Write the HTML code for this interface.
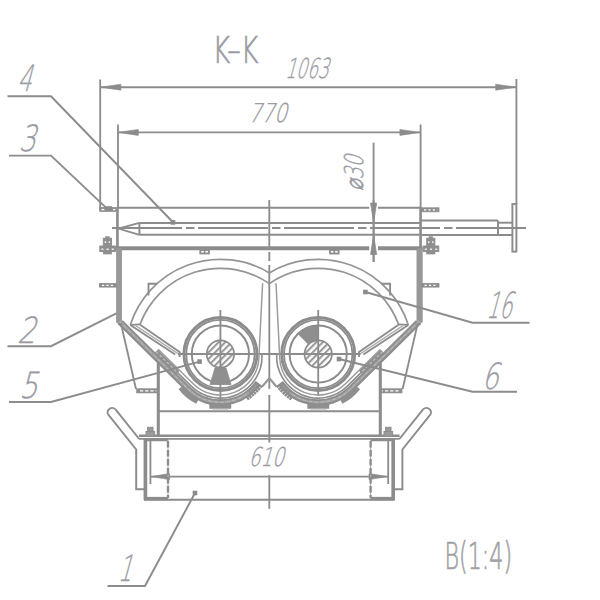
<!DOCTYPE html>
<html lang="en"><head><meta charset="utf-8"><title>K–K</title>
<style>
html,body{margin:0;padding:0;background:#fff;}
body{width:600px;height:600px;overflow:hidden;}
svg{display:block;}
text{font-family:"DejaVu Sans","Liberation Sans",sans-serif;}
</style></head><body>
<svg width="600" height="600" viewBox="0 0 600 600">
<defs>
<pattern id="hatch" patternUnits="userSpaceOnUse" width="4.6" height="4.6" patternTransform="rotate(-45)">
<rect width="4.6" height="4.6" fill="#fff"/><rect width="4.6" height="2.1" fill="#9a9a9a"/>
</pattern>
</defs>
<rect width="600" height="600" fill="#fff"/>
<line x1="100.20" y1="79.50" x2="100.20" y2="210.00" stroke="#8c8c8c" stroke-width="1.85" />
<line x1="516.40" y1="79.00" x2="516.40" y2="204.00" stroke="#8c8c8c" stroke-width="1.85" />
<line x1="100.20" y1="87.20" x2="516.40" y2="87.20" stroke="#8c8c8c" stroke-width="1.85" />
<path d="M100.40 87.20 L120.90 84.20 L120.90 90.20 Z" fill="#8c8c8c" stroke="#8c8c8c" stroke-width="0.6" />
<path d="M516.20 87.20 L495.70 84.20 L495.70 90.20 Z" fill="#8c8c8c" stroke="#8c8c8c" stroke-width="0.6" />
<line x1="118.00" y1="124.50" x2="118.00" y2="208.00" stroke="#8c8c8c" stroke-width="1.85" />
<line x1="420.60" y1="124.50" x2="420.60" y2="208.00" stroke="#8c8c8c" stroke-width="1.85" />
<line x1="117.60" y1="132.40" x2="420.60" y2="132.40" stroke="#8c8c8c" stroke-width="1.85" />
<path d="M117.80 132.40 L138.30 129.40 L138.30 135.40 Z" fill="#8c8c8c" stroke="#8c8c8c" stroke-width="0.6" />
<path d="M420.40 132.40 L399.90 129.40 L399.90 135.40 Z" fill="#8c8c8c" stroke="#8c8c8c" stroke-width="0.6" />
<line x1="373.60" y1="142.60" x2="373.60" y2="262.00" stroke="#8c8c8c" stroke-width="1.85" />
<line x1="117.60" y1="207.70" x2="420.60" y2="207.70" stroke="#8c8c8c" stroke-width="2.05" />
<line x1="116.00" y1="248.30" x2="422.50" y2="248.30" stroke="#8c8c8c" stroke-width="4.05" />
<rect x="116.20" y="207.20" width="2.40" height="41.00" fill="#8c8c8c" stroke="#8c8c8c" stroke-width="0.4"/>
<rect x="419.40" y="207.20" width="2.40" height="41.00" fill="#8c8c8c" stroke="#8c8c8c" stroke-width="0.4"/>
<rect x="99.80" y="207.60" width="16.00" height="3.80" fill="#8f8f8f" stroke="#8c8c8c" stroke-width="0.8"/>
<line x1="101.50" y1="209.60" x2="104.50" y2="209.60" stroke="#fff" stroke-width="1.35" />
<line x1="113.00" y1="209.60" x2="115.20" y2="209.60" stroke="#fff" stroke-width="1.35" />
<rect x="421.50" y="207.80" width="17.50" height="4.00" fill="#8f8f8f" stroke="#8c8c8c" stroke-width="0.8"/>
<line x1="424.00" y1="209.90" x2="437.50" y2="209.90" stroke="#fff" stroke-width="1.35" stroke-dasharray="2.2 2.2"/>
<rect x="369.20" y="205.00" width="8.80" height="6.00" fill="#fff" stroke="none" stroke-width="0"/>
<rect x="369.20" y="245.00" width="8.80" height="7.00" fill="#fff" stroke="none" stroke-width="0"/>
<line x1="373.60" y1="200.00" x2="373.60" y2="262.00" stroke="#8c8c8c" stroke-width="1.85" />
<path d="M373.60 222.60 L370.60 203.10 L376.60 203.10 Z" fill="#8c8c8c" stroke="#8c8c8c" stroke-width="0.8" />
<path d="M373.60 235.00 L370.60 254.50 L376.60 254.50 Z" fill="#8c8c8c" stroke="#8c8c8c" stroke-width="0.8" />
<line x1="139.40" y1="222.90" x2="420.00" y2="222.90" stroke="#8c8c8c" stroke-width="1.9500000000000002" />
<line x1="139.40" y1="234.80" x2="420.00" y2="234.80" stroke="#8c8c8c" stroke-width="1.9500000000000002" />
<line x1="139.40" y1="222.90" x2="139.40" y2="234.80" stroke="#8c8c8c" stroke-width="1.9500000000000002" />
<path d="M139.40 222.90 L118.50 228.60 L139.40 234.80" fill="none" stroke="#8c8c8c" stroke-width="1.85" />
<line x1="421.00" y1="220.50" x2="498.00" y2="220.50" stroke="#8c8c8c" stroke-width="1.9500000000000002" />
<line x1="421.00" y1="235.00" x2="512.40" y2="235.00" stroke="#8c8c8c" stroke-width="1.9500000000000002" />
<line x1="498.00" y1="220.50" x2="498.00" y2="235.00" stroke="#8c8c8c" stroke-width="1.9500000000000002" />
<line x1="498.00" y1="222.70" x2="512.40" y2="222.70" stroke="#8c8c8c" stroke-width="1.9500000000000002" />
<rect x="512.40" y="204.00" width="4.00" height="47.60" fill="none" stroke="#8c8c8c" stroke-width="1.9500000000000002"/>
<line x1="112.00" y1="228.00" x2="526.00" y2="228.00" stroke="#8c8c8c" stroke-width="1.85" stroke-dasharray="70 4 8.5 3.5"/>
<rect x="116.30" y="248.00" width="5.40" height="74.40" fill="#989898" stroke="#8c8c8c" stroke-width="0.5"/>
<rect x="416.90" y="248.00" width="5.40" height="74.40" fill="#989898" stroke="#8c8c8c" stroke-width="0.5"/>
<rect x="99.40" y="283.40" width="17.00" height="3.70" fill="#8f8f8f" stroke="#8c8c8c" stroke-width="0.8"/>
<line x1="102.00" y1="285.30" x2="115.00" y2="285.30" stroke="#fff" stroke-width="1.35" stroke-dasharray="2.2 2.2"/>
<rect x="422.00" y="283.40" width="17.00" height="3.70" fill="#8f8f8f" stroke="#8c8c8c" stroke-width="0.8"/>
<line x1="424.50" y1="285.30" x2="437.50" y2="285.30" stroke="#fff" stroke-width="1.35" stroke-dasharray="2.2 2.2"/>
<rect x="103.30" y="238.20" width="8.20" height="7.60" fill="#8f8f8f" stroke="#8c8c8c" stroke-width="0.9"/>
<rect x="105.60" y="236.60" width="3.60" height="1.60" fill="#8f8f8f" stroke="#8c8c8c" stroke-width="0.5"/>
<rect x="99.80" y="246.00" width="15.60" height="5.60" fill="#8f8f8f" stroke="#8c8c8c" stroke-width="0.9"/>
<rect x="103.30" y="251.60" width="8.20" height="2.40" fill="#8f8f8f" stroke="#8c8c8c" stroke-width="0.7"/>
<rect x="104.70" y="241.30" width="1.40" height="1.60" fill="#fff" stroke="none" stroke-width="0"/>
<rect x="108.70" y="241.30" width="1.40" height="1.60" fill="#fff" stroke="none" stroke-width="0"/>
<rect x="101.30" y="248.60" width="2.20" height="1.20" fill="#fff" stroke="none" stroke-width="0"/>
<rect x="106.50" y="248.60" width="2.20" height="1.20" fill="#fff" stroke="none" stroke-width="0"/>
<rect x="111.70" y="248.60" width="2.20" height="1.20" fill="#fff" stroke="none" stroke-width="0"/>
<rect x="426.70" y="238.20" width="8.20" height="7.60" fill="#8f8f8f" stroke="#8c8c8c" stroke-width="0.9"/>
<rect x="429.00" y="236.60" width="3.60" height="1.60" fill="#8f8f8f" stroke="#8c8c8c" stroke-width="0.5"/>
<rect x="423.20" y="246.00" width="15.60" height="5.60" fill="#8f8f8f" stroke="#8c8c8c" stroke-width="0.9"/>
<rect x="426.70" y="251.60" width="8.20" height="2.40" fill="#8f8f8f" stroke="#8c8c8c" stroke-width="0.7"/>
<rect x="428.10" y="241.30" width="1.40" height="1.60" fill="#fff" stroke="none" stroke-width="0"/>
<rect x="432.10" y="241.30" width="1.40" height="1.60" fill="#fff" stroke="none" stroke-width="0"/>
<rect x="424.70" y="248.60" width="2.20" height="1.20" fill="#fff" stroke="none" stroke-width="0"/>
<rect x="429.90" y="248.60" width="2.20" height="1.20" fill="#fff" stroke="none" stroke-width="0"/>
<rect x="435.10" y="248.60" width="2.20" height="1.20" fill="#fff" stroke="none" stroke-width="0"/>
<rect x="200.30" y="250.00" width="8.60" height="3.50" fill="none" stroke="#8c8c8c" stroke-width="1.85"/>
<rect x="330.00" y="250.00" width="8.60" height="3.50" fill="none" stroke="#8c8c8c" stroke-width="1.85"/>
<line x1="204.60" y1="250.00" x2="204.60" y2="253.50" stroke="#8c8c8c" stroke-width="1.65" />
<line x1="334.30" y1="250.00" x2="334.30" y2="253.50" stroke="#8c8c8c" stroke-width="1.65" />
<line x1="269.30" y1="200.00" x2="269.30" y2="246.50" stroke="#8c8c8c" stroke-width="1.85" />
<line x1="269.30" y1="252.00" x2="269.30" y2="261.00" stroke="#8c8c8c" stroke-width="1.85" />
<line x1="269.30" y1="265.00" x2="269.30" y2="388.80" stroke="#8c8c8c" stroke-width="1.85" />
<line x1="269.30" y1="395.00" x2="269.30" y2="442.50" stroke="#8c8c8c" stroke-width="1.85" />
<line x1="269.30" y1="475.00" x2="269.30" y2="508.80" stroke="#8c8c8c" stroke-width="1.85" />
<path d="M130.35 324.70 A94.70 94.70 0 0 1 269.30 272.90" fill="none" stroke="#949494" stroke-width="1.75" />
<path d="M139.94 324.50 A85.70 85.70 0 0 1 269.30 283.62" fill="none" stroke="#949494" stroke-width="1.75" />
<line x1="130.30" y1="324.80" x2="139.70" y2="324.40" stroke="#8c8c8c" stroke-width="1.85" />
<line x1="130.30" y1="325.00" x2="175.20" y2="354.60" stroke="#8c8c8c" stroke-width="1.85" />
<line x1="139.70" y1="324.40" x2="180.30" y2="352.60" stroke="#8c8c8c" stroke-width="1.85" />
<line x1="134.50" y1="324.80" x2="178.00" y2="353.60" stroke="#b0b0b0" stroke-width="1.45" />
<line x1="179.60" y1="352.30" x2="179.60" y2="357.00" stroke="#8c8c8c" stroke-width="1.85" />
<path d="M148.50 295.50 L148.50 283.70 L157.30 283.70" fill="none" stroke="#8c8c8c" stroke-width="1.85" />
<circle cx="220.40" cy="354.00" r="36.50" fill="none" stroke="#8c8c8c" stroke-width="2.85"/>
<circle cx="220.40" cy="354.00" r="34.20" fill="none" stroke="#8c8c8c" stroke-width="1.75"/>
<circle cx="220.40" cy="354.00" r="28.60" fill="none" stroke="#8c8c8c" stroke-width="1.9500000000000002"/>
<circle cx="220.40" cy="354.0" r="13.7" fill="url(#hatch)" stroke="#8c8c8c" stroke-width="1.7"/>
<line x1="220.40" y1="310.00" x2="220.40" y2="402.00" stroke="#8c8c8c" stroke-width="1.85" />
<path d="M269.30 272.90 A94.70 94.70 0 0 1 408.25 324.70" fill="none" stroke="#949494" stroke-width="1.75" />
<path d="M269.30 283.62 A85.70 85.70 0 0 1 398.66 324.50" fill="none" stroke="#949494" stroke-width="1.75" />
<line x1="408.30" y1="324.80" x2="398.90" y2="324.40" stroke="#8c8c8c" stroke-width="1.85" />
<line x1="408.30" y1="325.00" x2="363.40" y2="354.60" stroke="#8c8c8c" stroke-width="1.85" />
<line x1="398.90" y1="324.40" x2="358.30" y2="352.60" stroke="#8c8c8c" stroke-width="1.85" />
<line x1="404.10" y1="324.80" x2="360.60" y2="353.60" stroke="#b0b0b0" stroke-width="1.45" />
<line x1="359.00" y1="352.30" x2="359.00" y2="357.00" stroke="#8c8c8c" stroke-width="1.85" />
<path d="M390.10 295.50 L390.10 283.70 L381.30 283.70" fill="none" stroke="#8c8c8c" stroke-width="1.85" />
<circle cx="318.20" cy="354.00" r="36.50" fill="none" stroke="#8c8c8c" stroke-width="2.85"/>
<circle cx="318.20" cy="354.00" r="34.20" fill="none" stroke="#8c8c8c" stroke-width="1.75"/>
<circle cx="318.20" cy="354.00" r="28.60" fill="none" stroke="#8c8c8c" stroke-width="1.9500000000000002"/>
<circle cx="318.20" cy="354.0" r="13.7" fill="url(#hatch)" stroke="#8c8c8c" stroke-width="1.7"/>
<line x1="318.20" y1="310.00" x2="318.20" y2="396.00" stroke="#8c8c8c" stroke-width="1.85" />
<line x1="178.00" y1="354.00" x2="360.60" y2="354.00" stroke="#8c8c8c" stroke-width="1.85" />
<path d="M215.00 368.00 L226.00 368.00 L231.00 384.50 L210.00 384.50 Z" fill="#8f8f8f" stroke="#8c8c8c" stroke-width="0.8" />
<path d="M318.20 340.00 L318.20 325.40 L318.20 325.40 L315.71 325.51 L313.23 325.83 L310.80 326.37 L308.42 327.12 L306.11 328.08 L303.90 329.23 L301.80 330.57 L299.82 332.09 L297.98 333.78 L308.30 344.10 L309.20 343.28 L310.17 342.53 L311.20 341.88 L312.28 341.31 L313.41 340.84 L314.58 340.48 L315.77 340.21 L316.98 340.05 L318.20 340.00 Z" fill="#8f8f8f" stroke="#8c8c8c" stroke-width="0.8" />
<path d="M119.54 321.43 L188.26 389.13 A45.80 45.80 0 0 0 257.45 383.42" fill="none" stroke="#a2a2a2" stroke-width="4.6" stroke-linejoin="round" />
<path d="M119.54 321.43 L188.26 389.13 A45.80 45.80 0 0 0 257.45 383.42" fill="none" stroke="#c0c0c0" stroke-width="1.0" stroke-linejoin="round" stroke-dasharray="3.5 2.5"/>
<path d="M118.00 323.00 L186.71 390.69 A48.00 48.00 0 0 0 259.23 384.71" fill="none" stroke="#8c8c8c" stroke-width="2.0" stroke-linejoin="round" />
<path d="M122.16 320.92 L189.80 387.56 A43.60 43.60 0 0 0 255.67 382.13" fill="none" stroke="#8c8c8c" stroke-width="1.7" stroke-linejoin="round" />
<path d="M158.15 349.22 L193.38 383.93 A38.50 38.50 0 0 0 258.85 358.42 L262.60 283.30" fill="none" stroke="#9c9c9c" stroke-width="1.5" stroke-linejoin="round" />
<path d="M155.97 351.43 L191.21 386.13 A41.60 41.60 0 0 0 261.94 354.32" fill="none" stroke="#8c8c8c" stroke-width="1.6" stroke-linejoin="round" />
<path d="M246.84 398.82 A49.9 49.9 0 0 0 260.77 385.83" fill="none" stroke="#8e8e8e" stroke-width="3.6" stroke-dasharray="2.4 0.5"/>
<path d="M248.60 392.59 A45.8 45.8 0 0 0 257.45 383.42" fill="none" stroke="#909090" stroke-width="4.4" stroke-dasharray="2.4 0.6"/>
<line x1="255.11" y1="381.72" x2="261.98" y2="386.71" stroke="#8c8c8c" stroke-width="1.75" />
<line x1="261.98" y1="386.71" x2="269.30" y2="378.20" stroke="#979797" stroke-width="2.15" />
<line x1="156.12" y1="351.57" x2="177.70" y2="372.83" stroke="#8f8f8f" stroke-width="4.85" />
<line x1="156.12" y1="351.57" x2="177.70" y2="372.83" stroke="#c4c4c4" stroke-width="1.15" stroke-dasharray="3 2"/>
<path d="M197.43 401.58 A50.6 50.6 0 0 1 180.53 387.65" fill="none" stroke="#8f8f8f" stroke-width="5.0" />
<rect x="209.60" y="403.80" width="21.40" height="4.80" fill="#8f8f8f" stroke="#8c8c8c" stroke-width="0.4"/>
<rect x="212.10" y="408.60" width="16.40" height="1.00" fill="#b5b5b5" stroke="#8c8c8c" stroke-width="0"/>
<path d="M419.06 321.43 L350.34 389.13 A45.80 45.80 0 0 1 281.15 383.42" fill="none" stroke="#a2a2a2" stroke-width="4.6" stroke-linejoin="round" />
<path d="M419.06 321.43 L350.34 389.13 A45.80 45.80 0 0 1 281.15 383.42" fill="none" stroke="#c0c0c0" stroke-width="1.0" stroke-linejoin="round" stroke-dasharray="3.5 2.5"/>
<path d="M420.60 323.00 L351.89 390.69 A48.00 48.00 0 0 1 279.37 384.71" fill="none" stroke="#8c8c8c" stroke-width="2.0" stroke-linejoin="round" />
<path d="M416.44 320.92 L348.80 387.56 A43.60 43.60 0 0 1 282.93 382.13" fill="none" stroke="#8c8c8c" stroke-width="1.7" stroke-linejoin="round" />
<path d="M380.45 349.22 L345.22 383.93 A38.50 38.50 0 0 1 279.75 358.42 L276.00 283.30" fill="none" stroke="#9c9c9c" stroke-width="1.5" stroke-linejoin="round" />
<path d="M382.63 351.43 L347.39 386.13 A41.60 41.60 0 0 1 276.66 354.32" fill="none" stroke="#8c8c8c" stroke-width="1.6" stroke-linejoin="round" />
<path d="M291.76 398.82 A49.9 49.9 0 0 1 277.83 385.83" fill="none" stroke="#8e8e8e" stroke-width="3.6" stroke-dasharray="2.4 0.5"/>
<path d="M290.00 392.59 A45.8 45.8 0 0 1 281.15 383.42" fill="none" stroke="#909090" stroke-width="4.4" stroke-dasharray="2.4 0.6"/>
<line x1="283.49" y1="381.72" x2="276.62" y2="386.71" stroke="#8c8c8c" stroke-width="1.75" />
<line x1="276.62" y1="386.71" x2="269.30" y2="378.20" stroke="#979797" stroke-width="2.15" />
<line x1="382.48" y1="351.57" x2="360.90" y2="372.83" stroke="#8f8f8f" stroke-width="4.85" />
<line x1="382.48" y1="351.57" x2="360.90" y2="372.83" stroke="#c4c4c4" stroke-width="1.15" stroke-dasharray="3 2"/>
<path d="M341.17 401.58 A50.6 50.6 0 0 0 358.07 387.65" fill="none" stroke="#8f8f8f" stroke-width="5.0" />
<rect x="307.60" y="403.80" width="21.40" height="4.80" fill="#8f8f8f" stroke="#8c8c8c" stroke-width="0.4"/>
<rect x="310.10" y="408.60" width="16.40" height="1.00" fill="#b5b5b5" stroke="#8c8c8c" stroke-width="0"/>
<line x1="120.80" y1="323.00" x2="136.00" y2="389.00" stroke="#8c8c8c" stroke-width="1.85" />
<rect x="136.50" y="388.60" width="21.80" height="4.40" fill="#8f8f8f" stroke="#8c8c8c" stroke-width="0.5"/>
<line x1="140.00" y1="390.90" x2="156.50" y2="390.90" stroke="#fff" stroke-width="1.35" stroke-dasharray="3.2 2"/>
<line x1="158.30" y1="362.50" x2="158.30" y2="436.50" stroke="#8c8c8c" stroke-width="3.0500000000000003" />
<line x1="417.80" y1="323.00" x2="402.60" y2="389.00" stroke="#8c8c8c" stroke-width="1.85" />
<rect x="380.30" y="388.60" width="21.80" height="4.40" fill="#8f8f8f" stroke="#8c8c8c" stroke-width="0.5"/>
<line x1="398.60" y1="390.90" x2="382.10" y2="390.90" stroke="#fff" stroke-width="1.35" stroke-dasharray="3.2 2"/>
<line x1="380.30" y1="362.50" x2="380.30" y2="436.50" stroke="#8c8c8c" stroke-width="3.0500000000000003" />
<line x1="158.30" y1="411.20" x2="380.30" y2="411.20" stroke="#8c8c8c" stroke-width="1.85" />
<line x1="139.00" y1="435.70" x2="399.60" y2="435.70" stroke="#8c8c8c" stroke-width="2.35" />
<line x1="139.00" y1="438.90" x2="399.60" y2="438.90" stroke="#8c8c8c" stroke-width="1.85" />
<line x1="144.00" y1="499.80" x2="394.60" y2="499.80" stroke="#8c8c8c" stroke-width="2.05" />
<line x1="150.40" y1="476.60" x2="388.20" y2="476.60" stroke="#8c8c8c" stroke-width="1.85" />
<path d="M150.60 476.60 L169.60 473.60 L169.60 479.60 Z" fill="#8c8c8c" stroke="#8c8c8c" stroke-width="0.6" />
<path d="M388.00 476.60 L369.00 473.60 L369.00 479.60 Z" fill="#8c8c8c" stroke="#8c8c8c" stroke-width="0.6" />
<line x1="145.40" y1="438.00" x2="145.40" y2="500.00" stroke="#8c8c8c" stroke-width="3.65" />
<line x1="144.00" y1="439.60" x2="168.00" y2="439.60" stroke="#8c8c8c" stroke-width="3.25" />
<line x1="144.00" y1="498.60" x2="168.00" y2="498.60" stroke="#8c8c8c" stroke-width="3.45" />
<line x1="168.00" y1="440.00" x2="168.00" y2="498.00" stroke="#b4b4b4" stroke-width="1.15" />
<line x1="168.00" y1="441.00" x2="168.00" y2="498.00" stroke="#8c8c8c" stroke-width="2.35" stroke-dasharray="6.5 2.5"/>
<line x1="150.40" y1="440.00" x2="150.40" y2="484.00" stroke="#8c8c8c" stroke-width="1.85" />
<rect x="146.00" y="431.50" width="8.60" height="5.00" fill="#9a9a9a" stroke="#8c8c8c" stroke-width="1"/>
<rect x="147.60" y="427.30" width="5.40" height="4.20" fill="#9a9a9a" stroke="#8c8c8c" stroke-width="1"/>
<path d="M107.90 414.20 L136.20 449.50 L136.20 489.20 L144.50 489.20" fill="none" stroke="#8c8c8c" stroke-width="1.9500000000000002" />
<path d="M115.30 409.20 L139.20 439.00" fill="none" stroke="#8c8c8c" stroke-width="1.9500000000000002" />
<path d="M107.90 414.20 A4.6 4.6 0 0 1 115.30 409.20" fill="none" stroke="#8c8c8c" stroke-width="1.8"/>
<line x1="393.20" y1="438.00" x2="393.20" y2="500.00" stroke="#8c8c8c" stroke-width="3.65" />
<line x1="394.60" y1="439.60" x2="370.60" y2="439.60" stroke="#8c8c8c" stroke-width="3.25" />
<line x1="394.60" y1="498.60" x2="370.60" y2="498.60" stroke="#8c8c8c" stroke-width="3.45" />
<line x1="370.60" y1="440.00" x2="370.60" y2="498.00" stroke="#b4b4b4" stroke-width="1.15" />
<line x1="370.60" y1="441.00" x2="370.60" y2="498.00" stroke="#8c8c8c" stroke-width="2.35" stroke-dasharray="6.5 2.5"/>
<line x1="388.20" y1="440.00" x2="388.20" y2="484.00" stroke="#8c8c8c" stroke-width="1.85" />
<rect x="384.00" y="431.50" width="8.60" height="5.00" fill="#9a9a9a" stroke="#8c8c8c" stroke-width="1"/>
<rect x="385.60" y="427.30" width="5.40" height="4.20" fill="#9a9a9a" stroke="#8c8c8c" stroke-width="1"/>
<path d="M430.70 414.20 L402.40 449.50 L402.40 489.20 L394.10 489.20" fill="none" stroke="#8c8c8c" stroke-width="1.9500000000000002" />
<path d="M423.30 409.20 L399.40 439.00" fill="none" stroke="#8c8c8c" stroke-width="1.9500000000000002" />
<path d="M430.70 414.20 A4.6 4.6 0 0 0 423.30 409.20" fill="none" stroke="#8c8c8c" stroke-width="1.8"/>
<path d="M7.50 96.20 L51.00 96.20 L173.00 222.20" fill="none" stroke="#8c8c8c" stroke-width="1.9500000000000002" />
<rect x="170.70" y="220.10" width="4.60" height="4.60" fill="#8c8c8c" stroke="#8c8c8c" stroke-width="0"/>
<path d="M9.00 155.60 L51.00 155.60 L106.00 207.60" fill="none" stroke="#8c8c8c" stroke-width="1.9500000000000002" />
<rect x="104.50" y="206.20" width="7.50" height="3.40" fill="#8c8c8c" stroke="#8c8c8c" stroke-width="0"/>
<path d="M7.50 346.20 L51.00 346.20 L116.40 313.40" fill="none" stroke="#8c8c8c" stroke-width="1.9500000000000002" />
<path d="M9.00 402.00 L51.00 402.00 L199.60 361.60" fill="none" stroke="#8c8c8c" stroke-width="1.9500000000000002" />
<rect x="197.30" y="359.30" width="4.60" height="4.60" fill="#8c8c8c" stroke="#8c8c8c" stroke-width="0"/>
<path d="M107.50 586.00 L145.00 586.00 L195.00 493.00" fill="none" stroke="#8c8c8c" stroke-width="1.9500000000000002" />
<rect x="192.70" y="490.70" width="4.60" height="4.60" fill="#8c8c8c" stroke="#8c8c8c" stroke-width="0"/>
<path d="M529.50 322.80 L472.50 322.80 L365.40 292.00" fill="none" stroke="#8c8c8c" stroke-width="1.9500000000000002" />
<rect x="363.10" y="289.70" width="4.60" height="4.60" fill="#8c8c8c" stroke="#8c8c8c" stroke-width="0"/>
<path d="M517.00 391.70 L472.50 391.70 L339.00 359.00" fill="none" stroke="#8c8c8c" stroke-width="1.9500000000000002" />
<rect x="336.70" y="356.70" width="4.60" height="4.60" fill="#8c8c8c" stroke="#8c8c8c" stroke-width="0"/>
<text transform="translate(212.5 63) scale(0.73 1)" font-size="37" font-weight="200" fill="#9b9ba3" stroke="#9b9ba3" stroke-width="0.7" letter-spacing="0">K–K</text>
<text transform="translate(285 77.5) skewX(-15) scale(0.62 1)" font-size="27.5" font-weight="200" fill="#9b9ba3" stroke="#9b9ba3" stroke-width="0.35" letter-spacing="0">1063</text>
<text transform="translate(248.5 122) skewX(-15) scale(0.77 1)" font-size="26" font-weight="200" fill="#9b9ba3" stroke="#9b9ba3" stroke-width="0.35" letter-spacing="0">770</text>
<text transform="translate(248.5 466) skewX(-15) scale(0.71 1)" font-size="26" font-weight="200" fill="#9b9ba3" stroke="#9b9ba3" stroke-width="0.35" letter-spacing="0">610</text>
<text transform="translate(362.8 190.8) rotate(-90) skewX(-15) scale(0.72 1)" font-size="26" font-weight="200" fill="#9b9ba3" stroke="#9b9ba3" stroke-width="0.35" letter-spacing="0">⌀30</text>
<text transform="translate(17 91) skewX(-15) scale(0.62 1)" font-size="36" font-weight="200" fill="#9b9ba3" stroke="#9b9ba3" stroke-width="0.35" letter-spacing="0">4</text>
<text transform="translate(18.5 151) skewX(-15) scale(0.74 1)" font-size="36" font-weight="200" fill="#9b9ba3" stroke="#9b9ba3" stroke-width="0.35" letter-spacing="0">3</text>
<text transform="translate(17 342.5) skewX(-15) scale(0.81 1)" font-size="36" font-weight="200" fill="#9b9ba3" stroke="#9b9ba3" stroke-width="0.35" letter-spacing="0">2</text>
<text transform="translate(19 398) skewX(-15) scale(0.8 1)" font-size="36" font-weight="200" fill="#9b9ba3" stroke="#9b9ba3" stroke-width="0.35" letter-spacing="0">5</text>
<text transform="translate(117.5 581) skewX(-15) scale(0.62 1)" font-size="36" font-weight="200" fill="#9b9ba3" stroke="#9b9ba3" stroke-width="0.35" letter-spacing="0">1</text>
<text transform="translate(486 318) skewX(-15) scale(0.556 1)" font-size="36" font-weight="200" fill="#9b9ba3" stroke="#9b9ba3" stroke-width="0.35" letter-spacing="0">16</text>
<text transform="translate(481.5 388.7) skewX(-15) scale(0.73 1)" font-size="36" font-weight="200" fill="#9b9ba3" stroke="#9b9ba3" stroke-width="0.35" letter-spacing="0">6</text>
<text transform="translate(444.5 569) scale(0.6 1)" font-size="37" font-weight="200" fill="#a0a0a4" stroke="#a0a0a4" stroke-width="0.7" letter-spacing="0">B(1:4)</text>
</svg>
</body></html>
